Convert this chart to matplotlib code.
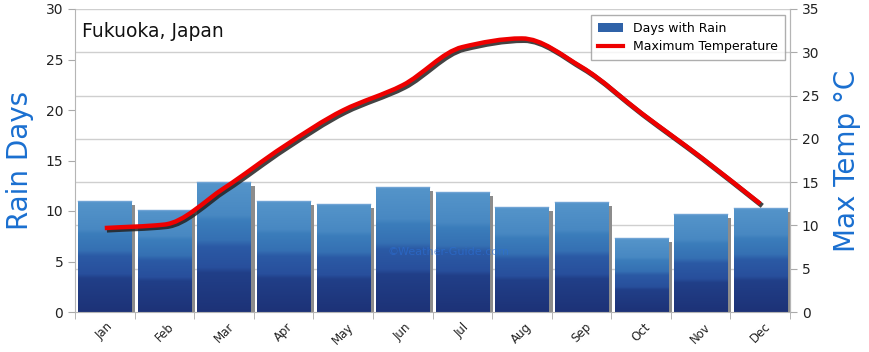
import numpy as np
import matplotlib
matplotlib.use("Agg")
import matplotlib.pyplot as plt
from matplotlib.path import Path
from matplotlib.patches import PathPatch, Rectangle
from matplotlib.lines import Line2D
from matplotlib.colors import LinearSegmentedColormap
import matplotlib.patheffects as pe

months = ["Jan", "Feb", "Mar", "Apr", "May", "Jun", "Jul", "Aug", "Sep", "Oct", "Nov", "Dec"]
rain_days = [11.0, 10.1, 12.9, 11.0, 10.7, 12.4, 11.9, 10.4, 10.9, 7.3, 9.7, 10.3]
max_temp = [9.7, 10.1, 14.3, 19.1, 23.3, 26.2, 30.6, 31.6, 28.3, 23.0, 17.9, 12.5]
left_ticks = [0, 5, 10, 15, 20, 25, 30]
right_ticks = [0, 5, 10, 15, 20, 25, 30, 35]

fig = plt.figure(figsize=(8.7, 3.52), dpi=100)
ax = fig.add_axes([75/870, 1-312/352, (790-75)/870, (312-9)/352])
ax2 = ax.twinx()

x = np.arange(len(months))
width = 0.89

ax.set_xlim(-0.5, 11.5)
ax.set_ylim(0, 30)
ax2.set_ylim(0, 35)

# gridlines at the right-axis ticks, drawn behind the bars
for t in right_ticks[1:]:
    ax.axhline(t * 30 / 35, color="#cfcfcf", lw=1, zorder=0)

cmap = LinearSegmentedColormap.from_list("bar", [
    (0.0, "#1d3277"), (0.30, "#213f88"), (0.34, "#284f9c"), (0.50, "#2b5aa5"),
    (0.55, "#3570b3"), (0.70, "#3b7dbb"), (0.74, "#4888c2"), (1.0, "#5595ca")])
grad = np.linspace(0, 1, 256).reshape(-1, 1)

for xi, v in zip(x, rain_days):
    ax.add_patch(Rectangle((xi - width/2 + 0.07, 0), width, v - 0.4,
                           facecolor="#8c8c8c", edgecolor="none", zorder=1.5))
    rect = Rectangle((xi - width/2, 0), width, v, facecolor="none", edgecolor="none", zorder=2)
    ax.add_patch(rect)
    im = ax.imshow(grad, cmap=cmap, origin="lower", aspect="auto",
                   extent=(xi - width/2, xi + width/2, 0, v), zorder=2)
    im.set_clip_path(rect)
    ax.plot([xi - width/2, xi + width/2], [v, v], color="#6fa3d4", lw=1, zorder=2.5)
ax.set_xlim(-0.5, 11.5)
ax.set_ylim(0, 30)

# smooth temperature curve (monotone cubic through the data points)
xs = x.astype(float)
ys = np.array(max_temp, dtype=float)
d = np.diff(ys) / np.diff(xs)
m = np.zeros_like(ys)
m[0] = d[0]
m[-1] = d[-1]
for i in range(1, len(ys) - 1):
    if d[i - 1] * d[i] <= 0:
        m[i] = 0.0
    else:
        m[i] = 2.0 / (1.0 / d[i - 1] + 1.0 / d[i])
verts = [(xs[0], ys[0])]
codes = [Path.MOVETO]
for i in range(len(ys) - 1):
    h = xs[i + 1] - xs[i]
    verts += [(xs[i] + h / 3, ys[i] + m[i] * h / 3),
              (xs[i + 1] - h / 3, ys[i + 1] - m[i + 1] * h / 3),
              (xs[i + 1], ys[i + 1])]
    codes += [Path.CURVE4] * 3
path = Path(verts, codes)
curve = PathPatch(path, facecolor="none", edgecolor="#ee0000", lw=3.2, zorder=5,
                  capstyle="butt",
                  path_effects=[pe.SimpleLineShadow(offset=(1.5, -1.5), shadow_color="#222222", alpha=0.85, linewidth=3.6),
                                pe.Normal()])
ax2.add_patch(curve)

ax.set_yticks(left_ticks)
ax2.set_yticks(right_ticks)
ax.set_xticks(x)
ax.set_xticklabels(months, rotation=45, fontsize=8.5, color="#222222")
ax.set_xticks(np.arange(-0.5, 12, 1), minor=True)
ax.tick_params(axis="x", which="major", length=0, pad=6)
ax.tick_params(axis="x", which="minor", length=5, color="#aaaaaa")
ax.tick_params(axis="y", length=5, color="#aaaaaa", labelsize=10, labelcolor="#222222")
ax2.tick_params(axis="y", length=5, color="#aaaaaa", labelsize=10, labelcolor="#222222")

for a in (ax, ax2):
    for s in a.spines.values():
        s.set_color("#b5b5b5")
    a.spines["top"].set_visible(False)
ax2.spines["left"].set_visible(False)
ax2.spines["bottom"].set_visible(False)

ax.set_ylabel("Rain Days", fontsize=20, color="#1a6fd0", labelpad=8)
ax2.set_ylabel("Max Temp °C", fontsize=20, color="#1a6fd0", labelpad=10)

ax.text(0.01, 0.925, "Fukuoka, Japan", transform=ax.transAxes, fontsize=13.5,
        color="#111111", va="center", ha="left", zorder=6)
ax.text(0.522, 0.198, "©Weather-Guide.com", transform=ax.transAxes, fontsize=8,
        color="#2b6fd6", alpha=0.6, ha="center", va="center", zorder=6)

handles = [Rectangle((0, 0), 1, 1, facecolor="#2f62a8", edgecolor="none"),
           Line2D([0], [0], color="#ee0000", lw=3)]
leg = ax2.legend(handles, ["Days with Rain", "Maximum Temperature"], loc="upper right",
                 bbox_to_anchor=(0.993, 0.98), borderaxespad=0, fontsize=9, frameon=True,
                 fancybox=False, edgecolor="#9a9a9a", handlelength=2.0, borderpad=0.55,
                 labelspacing=0.4)
leg.get_frame().set_linewidth(1)
leg.set_zorder(10)

fig.savefig("out.png", dpi=100)
